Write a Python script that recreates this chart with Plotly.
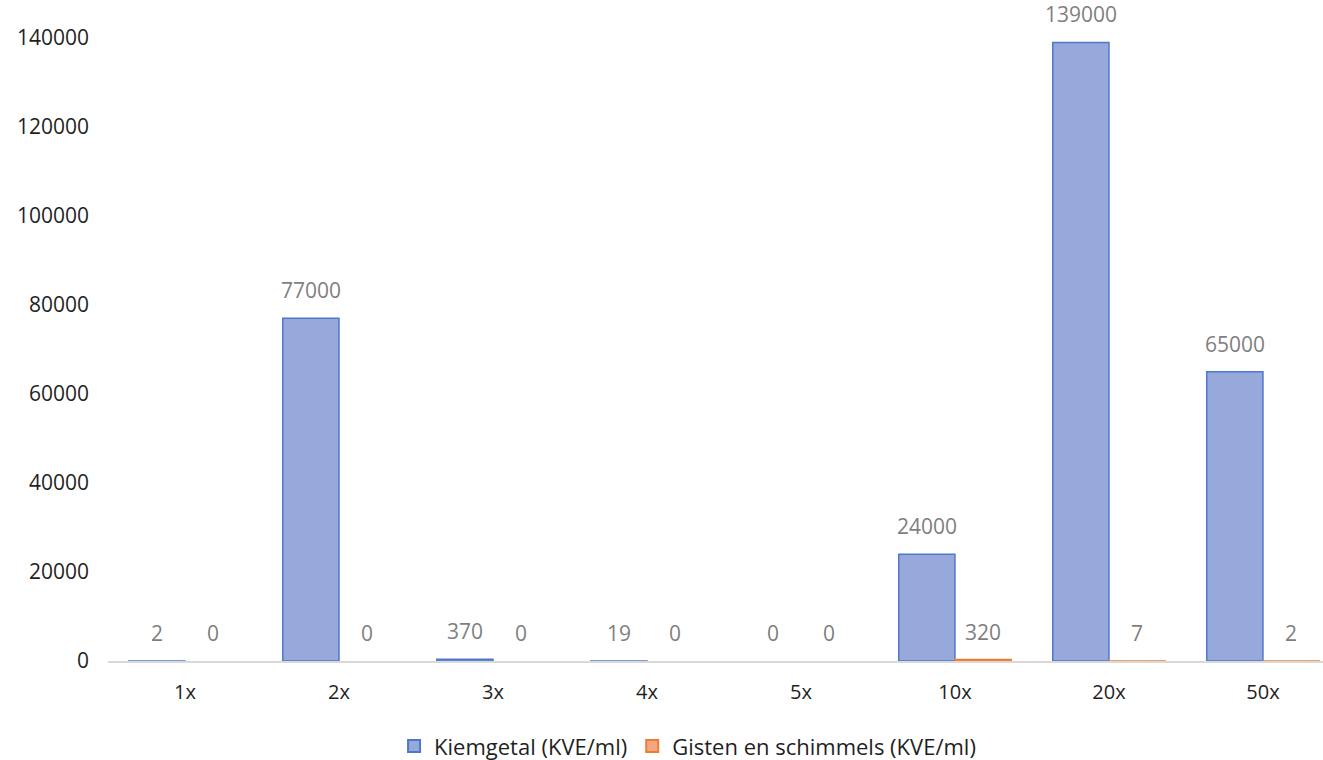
import plotly.graph_objects as go

categories = ["1x", "2x", "3x", "4x", "5x", "10x", "20x", "50x"]
kiemgetal = [2, 77000, 370, 19, 0, 24000, 139000, 65000]
gisten = [0, 0, 0, 0, 0, 320, 7, 2]
ytick_vals = [0, 20000, 40000, 60000, 80000, 100000, 120000, 140000]

FONT = "Open Sans"
LABEL_COLOR = "#7f7f7f"

fig = go.Figure()
fig.add_trace(go.Bar(
    x=categories, y=kiemgetal, name="Kiemgetal (KVE/ml)",
    marker=dict(color="#97a8da",
                line=dict(color="#4f78cc", width=[1.5 if v > 0 else 0 for v in kiemgetal])),
    cliponaxis=False,
))
fig.add_trace(go.Bar(
    x=categories, y=gisten, name="Gisten en schimmels (KVE/ml)",
    marker=dict(color="#f5a681",
                line=dict(color="#ed7d31", width=[1.5 if v > 0 else 0 for v in gisten])),
    cliponaxis=False,
))

# data labels above each bar (offset to the bar's slot in the group)
for series, shift in ((kiemgetal, -28), (gisten, 28)):
    for cat, val in zip(categories, series):
        fig.add_annotation(
            x=cat, y=val, xref="x", yref="y", text=str(val), showarrow=False,
            xanchor="center", yanchor="bottom", xshift=shift, yshift=12,
            font=dict(color=LABEL_COLOR, size=21, family=FONT),
        )

fig.update_layout(
    width=1323, height=760,
    margin=dict(l=108, r=0, t=38, b=99, autoexpand=False),
    paper_bgcolor="white", plot_bgcolor="white",
    barmode="group", bargap=0.27, bargroupgap=0,
    font=dict(family=FONT, color="#1f1f1f"),
    legend=dict(orientation="h", x=0.477, xanchor="center", y=-0.103, yanchor="top",
                font=dict(size=22, family=FONT, color="#1f1f1f"),
                itemsizing="constant", itemwidth=30),
    showlegend=True,
)
fig.update_xaxes(
    range=[-0.5, 7.39], showgrid=False, showline=True, linecolor="#d9d9d9", linewidth=1.5,
    ticks="", ticklabelstandoff=12, automargin=False,
    tickfont=dict(size=20, family=FONT, color="#1f1f1f", weight=500),
)
fig.update_yaxes(
    range=[0, 140000], tickvals=ytick_vals, ticktext=[str(v) for v in ytick_vals],
    showgrid=False, zeroline=False, showline=False, ticks="", ticklabelstandoff=18,
    automargin=False,
    tickfont=dict(size=21, family=FONT, color="#1f1f1f", weight=500),
)

fig.write_html("out.html")
